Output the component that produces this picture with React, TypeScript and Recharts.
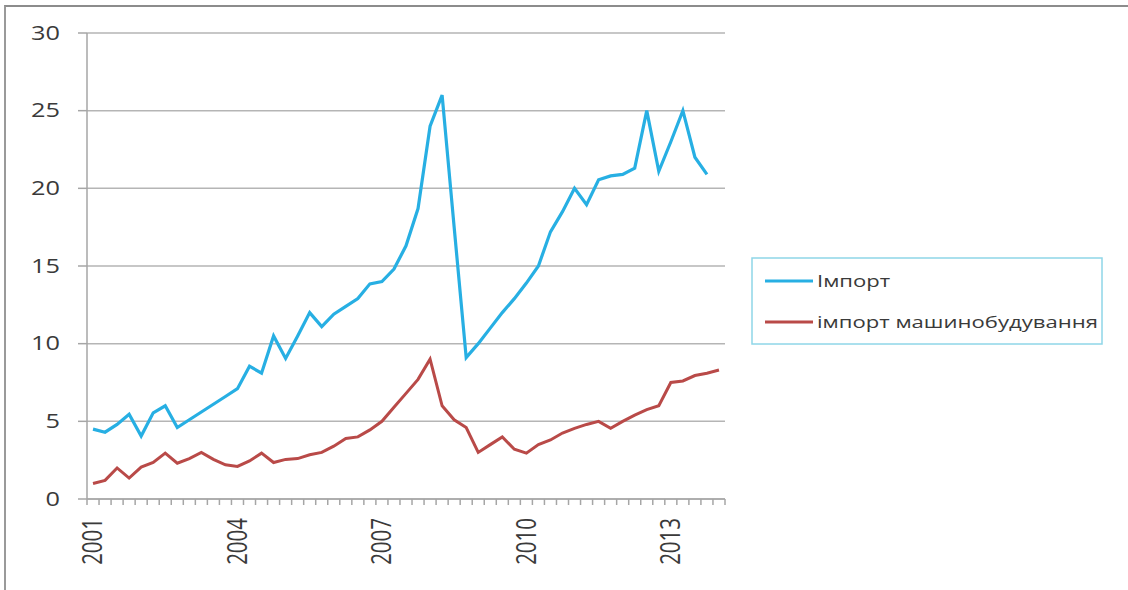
import React from 'react';
import { LineChart, Line, XAxis, YAxis, CartesianGrid } from 'recharts';

// quarterly values, 2001 Q1 .. 2014 Q1
const importTotal = [
  4.5, 4.3, 4.8, 5.45, 4.05, 5.55, 6.0, 4.6, 5.1, 5.6, 6.1, 6.6,
  7.1, 8.55, 8.1, 10.5, 9.05, 10.5, 12.0, 11.1, 11.9, 12.4, 12.9, 13.85,
  14.0, 14.8, 16.3, 18.7, 24.0, 26.0, 17.5, 9.1, 10.0, 11.0, 12.0, 12.9,
  13.9, 15.0, 17.2, 18.5, 20.0, 18.95, 20.55, 20.8, 20.9, 21.3, 25.0, 21.1,
  23.0, 25.0, 22.0, 20.9, null,
];
const importMachinery = [
  1.0, 1.2, 2.0, 1.35, 2.05, 2.35, 2.95, 2.3, 2.6, 3.0, 2.55, 2.2,
  2.1, 2.45, 2.95, 2.35, 2.55, 2.6, 2.85, 3.0, 3.4, 3.9, 4.0, 4.45,
  5.0, 5.9, 6.8, 7.7, 9.0, 6.0, 5.1, 4.6, 3.0, 3.5, 4.0, 3.2,
  2.95, 3.5, 3.8, 4.25, 4.55, 4.8, 5.0, 4.55, 5.0, 5.4, 5.75, 6.0,
  7.5, 7.6, 7.95, 8.1, 8.3,
];
const startYear = 2001;
const yearLabelEvery = 12; // a label every 3 years
const yTicks = [0, 5, 10, 15, 20, 25, 30];
const seriesNames = ['Імпорт', 'імпорт машинобудування'];
const seriesColors = ['#27afe3', '#b94a48'];

const data = importMachinery.map((_, i) => ({
  idx: i,
  period: `${startYear + Math.floor(i / 4)} Q${(i % 4) + 1}`,
  total: importTotal[i],
  machinery: importMachinery[i],
}));
const n = data.length;
const boundaryTicks = Array.from({ length: n + 1 }, (_, i) => i - 0.5);
const labelTicks = data.filter((d) => d.idx % yearLabelEvery === 0).map((d) => d.idx);

const FONT = '"Open Sans", "Liberation Sans", sans-serif';
const AXIS = '#a6a6a6';

const YTick = (props: any) => {
  const { x, y, payload } = props;
  return (
    <text
      x={0}
      y={0}
      dy="0.35em"
      textAnchor="end"
      fontSize={19.5}
      fontFamily={FONT}
      fill="#3a3a3a"
      transform={`translate(${x},${y}) scale(1.3,1)`}
    >
      {payload.value}
    </text>
  );
};

const YearTick = (props: any) => {
  const { x, y, payload } = props;
  return (
    <text
      x={0}
      y={0}
      dy="0.35em"
      textAnchor="end"
      fontSize={20.5}
      fontFamily={FONT}
      fill="#3a3a3a"
      transform={`translate(${x},${y}) scale(1.3,1) rotate(-90)`}
    >
      {startYear + payload.value / 4}
    </text>
  );
};

const Legendbox = () => (
  <svg
    width={352}
    height={88}
    style={{ position: 'absolute', left: 751, top: 257 }}
  >
    <rect x={1} y={1} width={350} height={86} fill="#fff" stroke="#8fd6e8" strokeWidth={1.5} />
    {seriesNames.map((name, i) => (
      <g key={name} transform={`translate(0, ${24 + i * 41})`}>
        <line x1={14} x2={62} y1={0} y2={0} stroke={seriesColors[i]} strokeWidth={3} />
        <text
          x={0}
          y={0}
          dy="0.35em"
          fontSize={17}
          fontFamily={FONT}
          fill="#3a3a3a"
          transform="translate(66,0) scale(1.3,1)"
        >
          {name}
        </text>
      </g>
    ))}
  </svg>
);

export default function App() {
  return (
    <div style={{ position: 'absolute', left: 0, top: 0, width: 1128, height: 590, background: '#fff' }}>
      <div
        style={{
          position: 'absolute',
          left: 4,
          top: 5,
          right: 0,
          bottom: 0,
          borderTop: '2px solid #8c8c8c',
          borderLeft: '2px solid #9a9a9a',
        }}
      />
      <LineChart
        width={1128}
        height={590}
        data={data}
        margin={{ top: 33, right: 403, bottom: 0, left: 0 }}
        style={{ position: 'absolute', left: 0, top: 0 }}
      >
        <CartesianGrid vertical={false} stroke="#b5b5b5" strokeWidth={1.5} />
        <XAxis
          dataKey="idx"
          type="number"
          domain={[-0.5, n - 0.5]}
          ticks={boundaryTicks}
          interval={0}
          height={8}
          tickSize={6}
          tick={() => <g />}
          axisLine={{ stroke: AXIS, strokeWidth: 1.5 }}
          tickLine={{ stroke: AXIS, strokeWidth: 1.5 }}
        />
        <XAxis
          xAxisId="years"
          dataKey="idx"
          type="number"
          domain={[-0.5, n - 0.5]}
          ticks={labelTicks}
          interval={0}
          height={83}
          tickSize={0}
          tickMargin={11}
          axisLine={false}
          tickLine={false}
          tick={<YearTick />}
        />
        <YAxis
          domain={[0, 30]}
          ticks={yTicks}
          interval={0}
          width={87}
          tickSize={9}
          tickMargin={18}
          axisLine={{ stroke: AXIS, strokeWidth: 1.5 }}
          tickLine={{ stroke: AXIS, strokeWidth: 1.5 }}
          tick={<YTick />}
        />
        <Line
          dataKey="total"
          name={seriesNames[0]}
          type="linear"
          stroke={seriesColors[0]}
          strokeWidth={3.2}
          dot={false}
          isAnimationActive={false}
        />
        <Line
          dataKey="machinery"
          name={seriesNames[1]}
          type="linear"
          stroke={seriesColors[1]}
          strokeWidth={3}
          dot={false}
          isAnimationActive={false}
        />
      </LineChart>
      <Legendbox />
    </div>
  );
}
